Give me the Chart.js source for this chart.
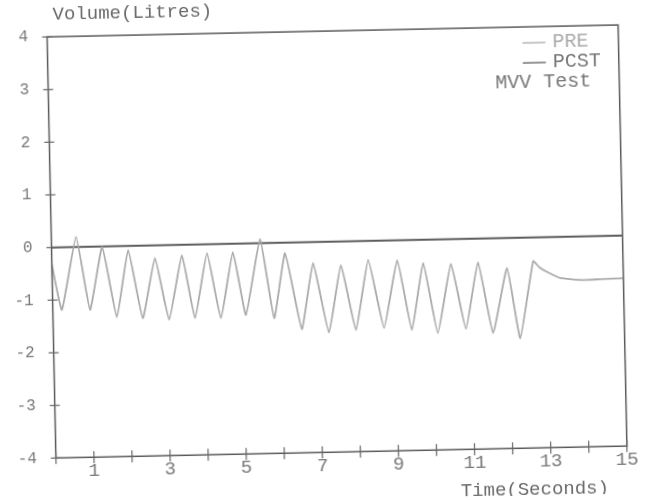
<!DOCTYPE html>
<html><head><meta charset="utf-8">
<script src="https://cdn.jsdelivr.net/npm/chart.js@4.4.1/dist/chart.umd.min.js"></script>
<style>
html,body{margin:0;padding:0;background:#fff;overflow:hidden;}
#wrap{width:655px;height:500px;transform:rotate(-1.2deg);transform-origin:327.5px 250px;}
</style></head><body>
<div id="wrap"><canvas id="c" width="655" height="500"></canvas></div>
<script>
// ---- data ----
const timeSeconds = [0, 0.24, 0.65, 0.98, 1.33, 1.68, 2.01, 2.36, 2.71, 3.05, 3.42, 3.73, 4.08, 4.41, 4.76, 5.07, 5.48, 5.81, 6.13, 6.53, 6.86, 7.24, 7.59, 7.95, 8.31, 8.69, 9.07, 9.42, 9.75, 10.10, 10.48, 10.84, 11.19, 11.55, 11.95, 12.26, 12.64, 12.80, 13.00, 13.34, 13.94, 14.40, 15.00];
const preVolume   = [-0.33, -1.19, 0.19, -1.20, -0.01, -1.35, -0.08, -1.38, -0.24, -1.42, -0.20, -1.40, -0.17, -1.41, -0.16, -1.36, 0.08, -1.43, -0.20, -1.65, -0.40, -1.73, -0.45, -1.69, -0.36, -1.66, -0.38, -1.71, -0.44, -1.78, -0.47, -1.71, -0.45, -1.80, -0.57, -1.91, -0.45, -0.57, -0.66, -0.78, -0.83, -0.82, -0.81];
const pcstTime    = [0, 15];
const pcstVolume  = [0, 0];
const xTickValues = [0, 1, 2, 3, 4, 5, 6, 7, 8, 9, 10, 11, 12, 13, 14, 15];
const yTickValues = [-4, -3, -2, -1, 0, 1, 2, 3, 4];
const seriesNames = ['PRE', 'PCST'];
const testName = 'MVV Test';
const yAxisTitle = 'Volume(Litres)';
const xAxisTitle = 'Time(Seconds)';

const FAM = "'Liberation Mono', 'DejaVu Sans Mono', monospace";
Chart.defaults.font.family = FAM;

const deco = {
  id: 'deco',
  afterDraw(chart) {
    const {ctx, chartArea: a, scales: {x, y}} = chart;
    ctx.save();
    // frame
    ctx.strokeStyle = '#5a5a5a';
    ctx.lineWidth = 1.5;
    ctx.strokeRect(a.left, a.top, a.right - a.left, a.bottom - a.top);
    // crossing tick marks
    ctx.lineWidth = 1.2;
    ctx.strokeStyle = '#666';
    x.ticks.forEach(t => {
      const px = x.getPixelForValue(t.value);
      ctx.beginPath(); ctx.moveTo(px, a.bottom - 6); ctx.lineTo(px, a.bottom + 6); ctx.stroke();
    });
    y.ticks.forEach(t => {
      const py = y.getPixelForValue(t.value);
      ctx.beginPath(); ctx.moveTo(a.left - 5, py); ctx.lineTo(a.left + 5, py); ctx.stroke();
    });
    // axis titles
    ctx.font = '19px ' + FAM;
    ctx.fillStyle = '#6a6a6a';
    ctx.textBaseline = 'middle';
    ctx.textAlign = 'left';
    ctx.fillText(yAxisTitle, a.left + 6, a.top - 22);
    ctx.fillText(xAxisTitle, a.right - 167, a.bottom + 42);
    // legend inside plot (top right)
    ctx.font = '20px ' + FAM;
    const textColors = ['#aaa', '#777'];
    chart.data.datasets.forEach((ds, i) => {
      const yy = a.top + 16 + i * 20;
      ctx.strokeStyle = ds.borderColor;
      ctx.lineWidth = 1.3;
      ctx.beginPath(); ctx.moveTo(a.right - 96, yy); ctx.lineTo(a.right - 73, yy); ctx.stroke();
      ctx.fillStyle = textColors[i];
      ctx.fillText(ds.label, a.right - 66, yy);
    });
    ctx.fillStyle = '#777';
    ctx.fillText(testName, a.right - 124, a.top + 56);
    ctx.restore();
  }
};

new Chart(document.getElementById('c'), {
  type: 'line',
  data: {
    datasets: [
      {
        label: seriesNames[0],
        data: timeSeconds.map((t, i) => ({x: t, y: preVolume[i]})),
        borderColor: '#aaaaaa',
        borderWidth: 1.8,
        pointRadius: 0,
        tension: 0.12
      },
      {
        label: seriesNames[1],
        data: pcstTime.map((t, i) => ({x: t, y: pcstVolume[i]})),
        borderColor: '#5c5c5c',
        borderWidth: 2,
        pointRadius: 0,
        tension: 0
      }
    ]
  },
  options: {
    responsive: false,
    animation: false,
    devicePixelRatio: 1,
    layout: {padding: {left: 0, right: 32.3, top: 31.1, bottom: 0}},
    plugins: {legend: {display: false}, tooltip: {enabled: false}, title: {display: false}},
    scales: {
      x: {
        type: 'linear', min: 0, max: 15,
        afterBuildTicks(s) { s.ticks = xTickValues.map(v => ({value: v})); },
        afterFit(s) { s.height = 47.7; },
        grid: {display: true, drawOnChartArea: false, drawTicks: false},
        border: {display: false},
        ticks: {
          autoSkip: false, maxRotation: 0, minRotation: 0, padding: 2,
          color: '#777', font: {size: 19},
          callback: v => (v % 2 === 1 ? String(v) : '')
        }
      },
      y: {
        type: 'linear', min: -4, max: 4,
        afterBuildTicks(s) { s.ticks = yTickValues.map(v => ({value: v})); },
        afterFit(s) { s.width = 51.6; },
        grid: {display: true, drawOnChartArea: false, drawTicks: false},
        border: {display: false},
        ticks: {padding: 19, color: '#777', font: {size: 16}, callback: v => String(v)}
      }
    }
  },
  plugins: [deco]
});
</script>
</body></html>
